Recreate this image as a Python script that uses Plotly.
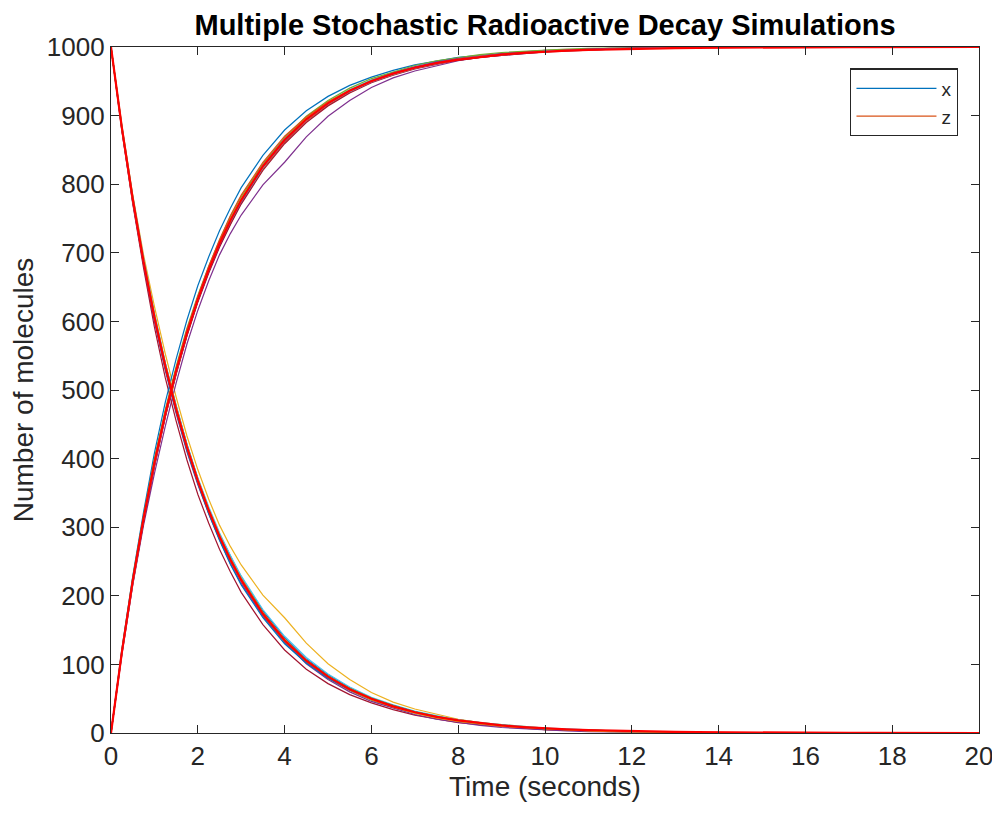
import plotly.graph_objects as go

# sample times of the stochastic runs (s)
t_sim = [0, 0.25, 0.5, 0.75, 1, 1.25, 1.5, 1.75, 2, 2.25, 2.5, 2.75, 3,
         3.5, 4, 4.5, 5, 5.5, 6, 6.5, 7, 7.5, 8, 8.5, 9, 9.5, 10, 10.5,
         11, 11.5, 12, 12.5, 13, 13.5, 14]

n_total = 1000

# remaining molecules x in each simulation
x_sim1 = [1000, 884, 781, 690, 611, 540, 478, 421, 371, 328, 290, 257, 226,
          178, 139, 108, 85, 66, 51, 40, 31, 24, 19, 15, 11, 8, 6, 5, 3, 2, 2, 1, 1, 0, 0]
x_sim2 = [1000, 886, 785, 697, 622, 553, 490, 433, 384, 341, 303, 272, 245,
          201, 168, 131, 101, 78, 59, 45, 35, 27, 20, 15, 12, 9, 7, 5, 4, 3, 2, 1, 1, 1, 0]
x_sim3 = [1000, 880, 776, 684, 603, 532, 470, 414, 366, 325, 288, 256, 228,
          176, 136, 104, 80, 62, 48, 37, 29, 22, 17, 13, 10, 8, 6, 5, 3, 3, 2, 1, 1, 0, 0]
x_sim4 = [1000, 878, 772, 678, 592, 518, 455, 398, 348, 306, 268, 235, 205,
          158, 121, 93, 72, 56, 44, 34, 26, 20, 15, 12, 9, 7, 5, 4, 3, 2, 1, 1, 1, 0, 0]
x_sim5 = [1000, 883, 780, 688, 606, 536, 474, 418, 369, 323, 285, 250, 221,
          171, 133, 103, 80, 63, 49, 38, 30, 23, 17, 13, 10, 7, 5, 4, 3, 2, 1, 1, 0, 0, 0]
x_sim6 = [1000, 879, 774, 683, 600, 529, 466, 410, 362, 320, 282, 247, 218,
          170, 132, 101, 78, 60, 46, 36, 27, 20, 15, 11, 8, 6, 4, 3, 2, 2, 1, 1, 0, 0, 0]
x_sim7 = [1000, 885, 783, 693, 612, 539, 476, 421, 372, 330, 292, 259, 229,
          180, 141, 110, 86, 67, 52, 41, 32, 25, 19, 15, 12, 9, 7, 6, 4, 3, 2, 2, 1, 1, 0]
x_sim8 = [1000, 881, 778, 686, 604, 531, 469, 412, 364, 320, 281, 246, 216,
          168, 130, 102, 80, 63, 50, 40, 31, 24, 18, 14, 11, 8, 6, 5, 4, 3, 2, 1, 1, 0, 0]
x_sim9 = [1000, 882, 777, 688, 609, 538, 476, 419, 370, 327, 289, 254, 225,
          175, 137, 106, 83, 64, 49, 38, 29, 22, 17, 13, 10, 8, 6, 4, 3, 2, 2, 1, 1, 0, 0]
x_sim10 = [1000, 884, 782, 689, 608, 536, 473, 416, 367, 324, 286, 253, 224,
           173, 134, 106, 83, 65, 51, 40, 31, 24, 18, 14, 11, 8, 6, 5, 4, 3, 2, 1, 1, 1, 0]

x_runs = [x_sim1, x_sim2, x_sim3, x_sim4, x_sim5,
          x_sim6, x_sim7, x_sim8, x_sim9, x_sim10]

# deterministic curve (red), runs to 20 s
t_det = [0, 0.25, 0.5, 0.75, 1, 1.25, 1.5, 1.75, 2, 2.25, 2.5, 2.75, 3,
         3.5, 4, 4.5, 5, 5.5, 6, 6.5, 7, 7.5, 8, 8.5, 9, 9.5, 10,
         10.5, 11, 11.5, 12, 12.5, 13, 13.5, 14, 14.5, 15, 15.5, 16, 16.5, 17, 17.5, 18,
         18.5, 19, 19.5, 20]
x_det = [1000, 882.5, 778.8, 687.3, 606.5, 535.3, 472.4, 416.9, 367.9, 324.7, 286.5, 252.8, 223.1,
         173.8, 135.3, 105.4, 82.1, 63.9, 49.8, 38.8, 30.2, 23.5, 18.3, 14.3, 11.1, 8.7, 6.7,
         5.2, 4.1, 3.2, 2.5, 1.9, 1.5, 1.2, 0.9, 0.7, 0.6, 0.4, 0.3, 0.3, 0.2, 0.2, 0.1,
         0.1, 0.1, 0.1, 0.0]

# MATLAB default colour order
colors = ['#0072BD', '#D95319', '#EDB120', '#7E2F8E', '#77AC30', '#4DBEEE', '#A2142F']

fig = go.Figure()
k = 0
for i, xs in enumerate(x_runs):
    zs = [n_total - v for v in xs]
    for name, ys in (("x", xs), ("z", zs)):
        fig.add_trace(go.Scatter(
            x=t_sim, y=ys, mode="lines", name=name,
            line=dict(color=colors[k % len(colors)], width=1.2),
            showlegend=(i == 0),
        ))
        k += 1

fig.add_trace(go.Scatter(x=t_det, y=x_det, mode="lines", showlegend=False,
                         line=dict(color="#FF0000", width=2.2)))
fig.add_trace(go.Scatter(x=t_det, y=[n_total - v for v in x_det], mode="lines",
                         showlegend=False, line=dict(color="#FF0000", width=2.2)))

axis_style = dict(
    showline=True, linecolor="#262626", linewidth=1.3, mirror="ticks",
    ticks="inside", ticklen=8, tickcolor="#262626", tickwidth=1.3,
    showgrid=False, zeroline=False, automargin=False,
    tickfont=dict(size=26, color="#262626"),
)

fig.update_xaxes(range=[0, 20], dtick=2, title=dict(text="Time (seconds)",
                 font=dict(size=28, color="#262626"), standoff=6), **axis_style)
fig.update_yaxes(range=[0, 1000], dtick=100, title=dict(text="Number of molecules",
                 font=dict(size=28, color="#262626"), standoff=10), **axis_style)

# page body has an 8px margin, so the figure is a bit smaller than the window
fig.update_layout(
    width=992, height=805,
    margin=dict(l=103, r=21, t=39, b=80),
    paper_bgcolor="white", plot_bgcolor="white",
    font=dict(family="Liberation Sans, Arial, sans-serif"),
    title=dict(text="<b>Multiple Stochastic Radioactive Decay Simulations</b>",
               x=0.5, xref="paper", xanchor="center",
               y=1 - 17 / 805, yref="container", yanchor="middle",
               font=dict(size=29, color="black")),
    legend=dict(x=0.976, xanchor="right", y=0.969, yanchor="top",
                bgcolor="white", bordercolor="#262626", borderwidth=1.3,
                itemwidth=80, font=dict(size=19, color="#262626"),
                tracegroupgap=0),
)

fig.write_html("out.html")
